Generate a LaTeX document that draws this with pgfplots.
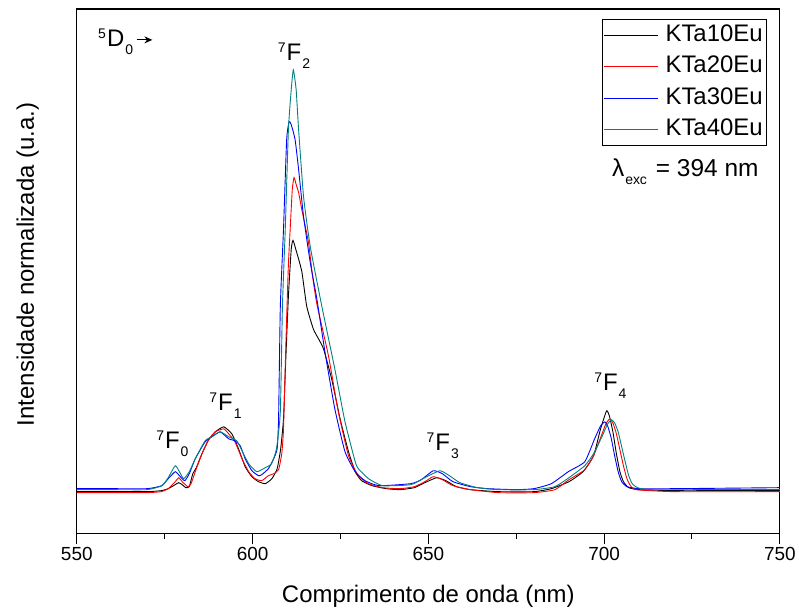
\documentclass[border=0pt]{standalone}
\usepackage{fontspec}
\setmainfont{Liberation Sans}
\usepackage{pgfplots}
\pgfplotsset{compat=1.18}
\usetikzlibrary{arrows.meta}
\definecolor{kteal}{RGB}{0,128,128}
\newcommand{\lev}[3]{{\fontsize{14}{14}\selectfont\raisebox{8pt}{#1}}\hspace{1pt}#2\hspace{1pt}{\fontsize{14}{14}\selectfont\raisebox{-8pt}{#3}}}
\begin{document}
\begin{tikzpicture}
\begin{axis}[
 scale only axis, width=705pt, height=526pt,
 xmin=550, xmax=750, ymin=10, ymax=536,
 xtick={550,600,...,750}, minor x tick num=1,
 ytick=\empty,
 xtick pos=left, tick align=outside,
 major tick length=10.5pt, minor tick length=5pt,
 tick style={black, line width=1pt},
 axis line style={line width=1.1pt},
 ticklabel style={font=\fontsize{19}{19}\selectfont},
 /pgf/number format/assume math mode=true,
 xlabel={Comprimento de onda (nm)},
 ylabel={Intensidade normalizada (u.a.)},
 label style={font=\fontsize{24}{24}\selectfont},
 xlabel style={at={(axis description cs:0.5,0)}, anchor=base, yshift=-69pt},
 ylabel style={at={(axis description cs:-0.061,0.513)}, anchor=base},
 legend style={at={(0.981,0.981)}, anchor=north east, draw=black, line width=0.7pt,
   font=\fontsize{24}{24}\selectfont, inner xsep=1.5pt, inner ysep=2pt, row sep=3.5pt,
   nodes={text height=18pt, text depth=6pt, inner sep=2pt},
   /tikz/every odd column/.append style={column sep=5pt}},
 legend cell align=left,
 legend image code/.code={\draw[#1, line width=0.8pt] (0pt,0pt) -- (54pt,0pt);},
 every axis plot/.append style={line width=0.9pt, smooth, tension=0.3},
 clip=true,
]
% KTa10Eu
\addplot[draw=black] coordinates {
(550,52) (560,52) (570,52) (574,53) (576,55) (578,59) (579,61) (580,59) (581,56) (582,57)
(583,70) (584,76) (585.6,90) (587.5,104) (589.4,112) (591.8,117) (594.1,110) (596,95)
(597.9,77) (599.8,67) (601.7,62) (603.6,60) (605.5,65) (607,75) (608,95) (608.8,125)
(609.4,180) (610.2,248) (611,295) (611.5,304) (612.3,295) (614,273) (615.4,238) (617.3,215)
(618.8,205) (620.2,195) (622.5,165) (624.9,125) (627.3,92) (629.2,72) (631,63) (634,58)
(638,55) (642,54) (646,56) (649,61) (652.4,66) (655,63) (658,57) (662,54) (670,52) (680,52)
(685,55) (690,62) (694,72) (697,88) (699,115) (700.7,133) (701.5,128) (702.5,112) (703.5,90)
(704.5,72) (705.5,62) (707,56) (710,54) (720,53) (735,53) (750,53)
};
\addlegendentry{KTa10Eu}
% KTa20Eu
\addplot[draw=red] coordinates {
(550,51) (560,51) (570,51) (574,52) (576,55) (578,62) (579,66) (580,62) (581.6,57) (582.5,60)
(583.7,72) (585.6,90) (587.5,104) (589.4,112) (591.8,115) (593.2,110) (595,102) (597,85)
(598.9,72) (600.7,65) (602.6,63) (604.5,68) (606,70) (607.4,74) (608.3,90) (608.8,115)
(609.6,215) (610.2,280) (610.7,315) (611.3,355) (611.8,367) (612.4,360) (613.1,352) (614,335)
(615.9,302) (617,270) (618.3,240) (621.6,188) (624.4,132) (627.3,88) (630.1,68) (633,60)
(637,56) (642,55) (646,57) (649,62) (651.4,67) (654,64) (657,58) (662,54) (670,51) (680,51)
(686,54) (690,64) (694.5,74) (697,88) (699.2,108) (700.5,120) (701.6,125) (702.5,121)
(703.5,110) (704.5,94) (705.5,78) (706.5,65) (707.5,58) (709,54) (720,52) (750,52)
};
\addlegendentry{KTa20Eu}
% KTa30Eu
\addplot[draw=blue] coordinates {
(550,55) (560,55) (570,55) (574.2,58) (576,65) (578,72) (579.2,68) (580.7,63) (582,70)
(583.7,85) (586.5,102) (588.4,107) (590.8,112) (593.2,105) (595,103) (596.5,98) (597.9,85)
(599.8,73) (601.7,68) (602.6,69) (604.5,75) (606,85) (607,95) (607.4,125) (607.9,238)
(608.8,315) (609.7,405) (610.4,423) (611,420) (612.1,405) (613.1,375) (614.5,328) (616.4,282)
(618.3,245) (620.6,192) (623.4,135) (626.3,92) (629.2,72) (632,63) (636,58) (645,60) (648,64)
(651.4,73) (654,70) (657,62) (662,57) (667,55) (675,54) (680,55) (685,60) (689.8,72)
(694.5,82) (697.3,105) (699,118) (700.2,122) (701,118) (702,106) (703,88) (704,72) (705,62)
(706.5,57) (710,55) (720,55) (750,56)
};
\addlegendentry{KTa30Eu}
% KTa40Eu
\addplot[draw=kteal] coordinates {
(550,54) (560,54) (570,54) (574.2,58) (576,66) (578,78) (579.2,72) (580.4,65) (582,72)
(583.7,85) (586.5,103) (588.4,107) (590.8,112) (593.2,107) (595.5,103) (597,93) (598.9,80)
(601.2,72) (603.6,76) (605.4,80) (606.8,95) (607.9,132) (608.5,238) (609.3,315) (610.2,415)
(611,455) (611.6,475) (612.4,455) (613.1,415) (614.5,348) (616.4,298) (619.7,238) (623.4,175)
(626.3,122) (629.2,82) (630.1,75) (633,65) (637,58) (645,59) (649,66) (653.3,73) (656,68)
(659,61) (664,56) (670,54) (680,54) (686,57) (690,66) (694.5,78) (697,90) (699.5,108)
(701,120) (702.1,124) (703,121) (704,112) (705,97) (706,82) (707,68) (708,60) (709.5,56)
(713,54) (730,54) (750,54)
};
\addlegendentry{KTa40Eu}
\node[anchor=base west, font=\fontsize{24}{24}\selectfont] at (axis cs:555.1,498) {\lev{5}{D}{0}};
\draw[-{Stealth[length=8pt,width=7pt]}, line width=1pt] (axis cs:567,505) -- (axis cs:571.5,505);
\node[anchor=base, font=\fontsize{24}{24}\selectfont] at (axis cs:611.8,484) {\lev{7}{F}{2}};
\node[anchor=base, font=\fontsize{24}{24}\selectfont] at (axis cs:577.2,95) {\lev{7}{F}{0}};
\node[anchor=base, font=\fontsize{24}{24}\selectfont] at (axis cs:592.3,133) {\lev{7}{F}{1}};
\node[anchor=base, font=\fontsize{24}{24}\selectfont] at (axis cs:654.1,93) {\lev{7}{F}{3}};
\node[anchor=base, font=\fontsize{24}{24}\selectfont] at (axis cs:701.8,153) {\lev{7}{F}{4}};
\node[anchor=base west, font=\fontsize{24.5}{24.5}\selectfont, inner sep=0pt] at (axis cs:702.2,368) {λ\hspace{1pt}\raisebox{-8pt}{\fontsize{14}{14}\selectfont exc}\hspace{9pt}= 394 nm};
\end{axis}
\path[use as bounding box] ([xshift=-77pt,yshift=-77pt]current axis.south west) rectangle ([xshift=17pt,yshift=9pt]current axis.north east);
\end{tikzpicture}
\end{document}
